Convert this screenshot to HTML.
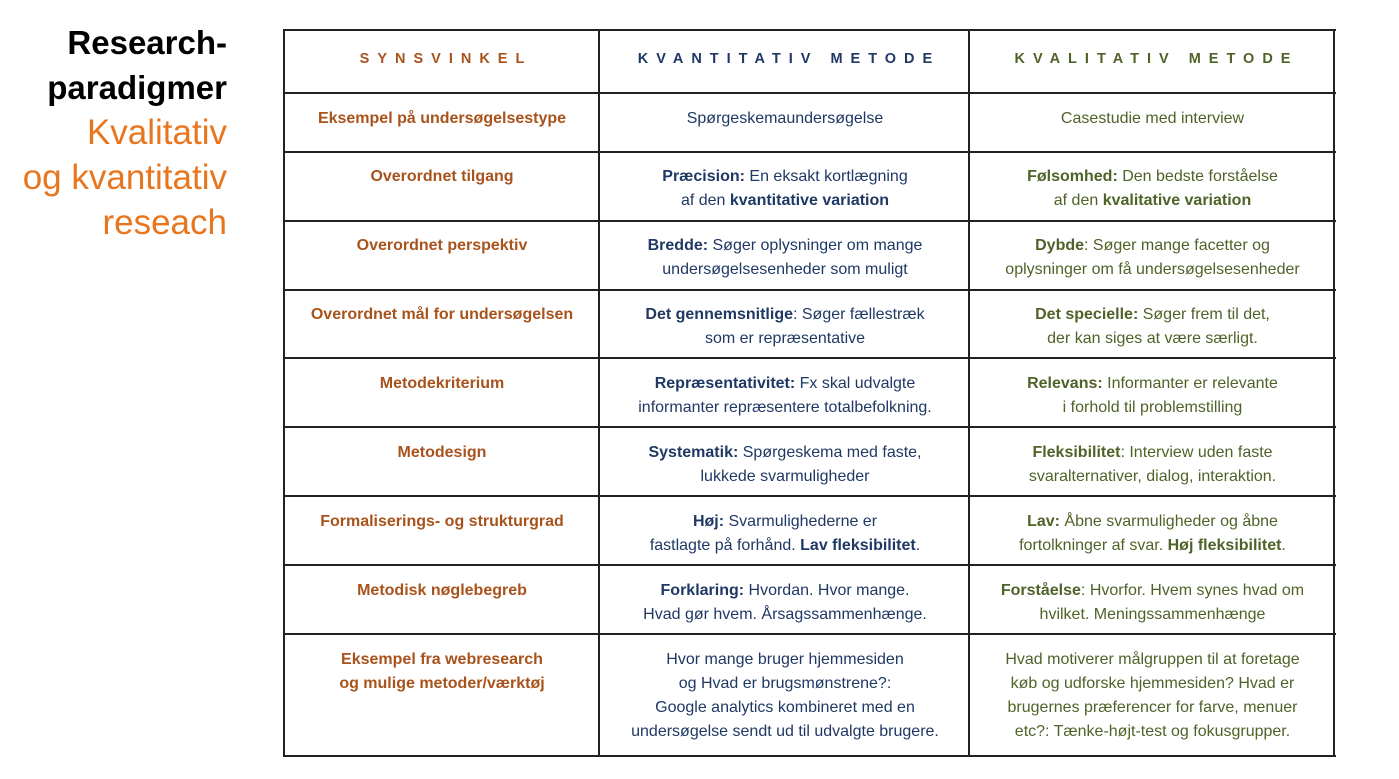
<!DOCTYPE html>
<html><head><meta charset="utf-8"><style>
body{margin:0;width:1399px;height:779px;background:#fff;position:relative;font-family:"Liberation Sans",sans-serif;overflow:hidden}
.t{position:absolute;right:1172px;text-align:right;line-height:45px;white-space:nowrap}
.h{position:absolute;left:0;width:1399px;height:2px;background:#222}
.v{position:absolute;top:30px;height:727px;width:2px;background:#222}
.c{position:absolute;text-align:center;font-size:16px;line-height:24px;white-space:nowrap}
.c1{left:285px;width:314px;color:#a8531c;font-weight:bold}
.c2{left:601px;width:368px;color:#1f3864}
.c3{left:971px;width:363px;color:#4f6228}
.hd{font-weight:bold;letter-spacing:8px;font-size:14.5px;text-indent:8px}
</style></head><body>
<div class="t" style="top:20px;color:#000;font-weight:bold;font-size:33px">Research-<br>paradigmer</div>
<div class="t" style="top:110px;color:#e8761e;font-size:35px">Kvalitativ<br>og kvantitativ<br>reseach</div>
<div class="h" style="left:283px;width:1053px;top:29px"></div>
<div class="h" style="left:283px;width:1053px;top:92px"></div>
<div class="h" style="left:283px;width:1053px;top:151px"></div>
<div class="h" style="left:283px;width:1053px;top:220px"></div>
<div class="h" style="left:283px;width:1053px;top:289px"></div>
<div class="h" style="left:283px;width:1053px;top:357px"></div>
<div class="h" style="left:283px;width:1053px;top:426px"></div>
<div class="h" style="left:283px;width:1053px;top:495px"></div>
<div class="h" style="left:283px;width:1053px;top:564px"></div>
<div class="h" style="left:283px;width:1053px;top:633px"></div>
<div class="h" style="left:283px;width:1053px;top:755px"></div>
<div class="v" style="left:283px"></div>
<div class="v" style="left:598px"></div>
<div class="v" style="left:968px"></div>
<div class="v" style="left:1333px"></div>

<div class="c c1 hd" style="top:47px">SYNSVINKEL</div>
<div class="c c2 hd" style="top:47px">KVANTITATIV METODE</div>
<div class="c c3 hd" style="top:47px">KVALITATIV METODE</div>

<div class="c c1" style="top:107px">Eksempel på undersøgelsestype</div>
<div class="c c2" style="top:107px">Spørgeskemaundersøgelse</div>
<div class="c c3" style="top:107px">Casestudie med interview</div>

<div class="c c1" style="top:165px">Overordnet tilgang</div>
<div class="c c2" style="top:165px"><b>Præcision:</b> En eksakt kortlægning<br>af den <b>kvantitative variation</b></div>
<div class="c c3" style="top:165px"><b>Følsomhed:</b> Den bedste forståelse<br>af den <b>kvalitative variation</b></div>

<div class="c c1" style="top:234px">Overordnet perspektiv</div>
<div class="c c2" style="top:234px"><b>Bredde:</b> Søger oplysninger om mange<br>undersøgelsesenheder som muligt</div>
<div class="c c3" style="top:234px"><b>Dybde</b>: Søger mange facetter og<br>oplysninger om få undersøgelsesenheder</div>

<div class="c c1" style="top:303px">Overordnet mål for undersøgelsen</div>
<div class="c c2" style="top:303px"><b>Det gennemsnitlige</b>: Søger fællestræk<br>som er repræsentative</div>
<div class="c c3" style="top:303px"><b>Det specielle:</b> Søger frem til det,<br>der kan siges at være særligt.</div>

<div class="c c1" style="top:372px">Metodekriterium</div>
<div class="c c2" style="top:372px"><b>Repræsentativitet:</b> Fx skal udvalgte<br>informanter repræsentere totalbefolkning.</div>
<div class="c c3" style="top:372px"><b>Relevans:</b> Informanter er relevante<br>i forhold til problemstilling</div>

<div class="c c1" style="top:441px">Metodesign</div>
<div class="c c2" style="top:441px"><b>Systematik:</b> Spørgeskema med faste,<br>lukkede svarmuligheder</div>
<div class="c c3" style="top:441px"><b>Fleksibilitet</b>: Interview uden faste<br>svaralternativer, dialog, interaktion.</div>

<div class="c c1" style="top:510px">Formaliserings- og strukturgrad</div>
<div class="c c2" style="top:510px"><b>Høj:</b> Svarmulighederne er<br>fastlagte på forhånd. <b>Lav fleksibilitet</b>.</div>
<div class="c c3" style="top:510px"><b>Lav:</b> Åbne svarmuligheder og åbne<br>fortolkninger af svar. <b>Høj fleksibilitet</b>.</div>

<div class="c c1" style="top:579px">Metodisk nøglebegreb</div>
<div class="c c2" style="top:579px"><b>Forklaring:</b> Hvordan. Hvor mange.<br>Hvad gør hvem. Årsagssammenhænge.</div>
<div class="c c3" style="top:579px"><b>Forståelse</b>: Hvorfor. Hvem synes hvad om<br>hvilket. Meningssammenhænge</div>

<div class="c c1" style="top:648px">Eksempel fra webresearch<br>og mulige metoder/værktøj</div>
<div class="c c2" style="top:648px">Hvor mange bruger hjemmesiden<br>og Hvad er brugsmønstrene?:<br>Google analytics kombineret med en<br>undersøgelse sendt ud til udvalgte brugere.</div>
<div class="c c3" style="top:648px">Hvad motiverer målgruppen til at foretage<br>køb og udforske hjemmesiden? Hvad er<br>brugernes præferencer for farve, menuer<br>etc?: Tænke-højt-test og fokusgrupper.</div>
</body></html>
